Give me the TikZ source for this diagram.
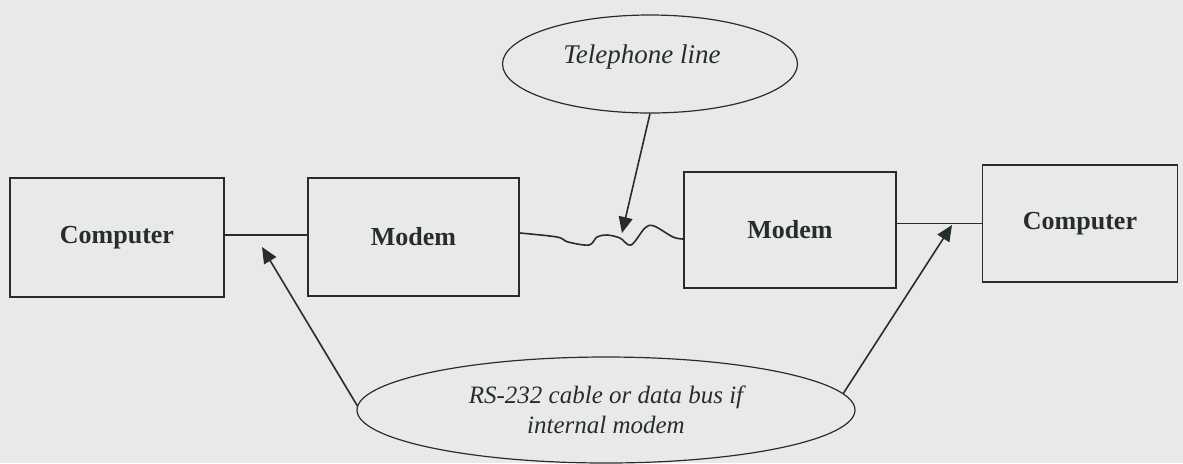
\documentclass[tikz,border=0pt]{standalone}
\usepackage{fontspec}
\setmainfont{Liberation Serif}
\usepackage{tikz}
\usetikzlibrary{arrows.meta,positioning,shapes.geometric}
\definecolor{paper}{RGB}{233,233,235}
\definecolor{ink}{RGB}{38,46,42}

\tikzset{
  unitbox/.style={draw=ink, line width=0.8pt, inner sep=0pt, font=\fontsize{13}{15}\selectfont\bfseries, text=ink},
  callout/.style={ellipse, draw=ink, line width=0.6pt, inner sep=0pt, font=\fontsize{12.5}{15}\selectfont\itshape, text=ink, align=center},
  wire/.style={ink, line width=0.8pt},
  pointer/.style={ink, line width=0.8pt, -{Triangle[length=8pt,width=7pt]}}
}

\begin{document}
\begin{tikzpicture}[x=0.5pt, y=-0.5pt]
\useasboundingbox[fill=paper] (0,0) rectangle (1183,463);
% boxes
\node[unitbox, minimum width=107pt, minimum height=59.5pt] (compA) at (117,237.5) {Computer};
\node[unitbox, minimum width=105.5pt, minimum height=59pt] (mdmA) at (413.5,237) {Modem};
\node[unitbox, minimum width=106pt, minimum height=58pt] (mdmB) at (790,230) {Modem};
\node[unitbox, minimum width=97.5pt, minimum height=58.5pt] (compB) at (1080,223.5) {Computer};
% cables
\draw[wire] (compA.east |- 0,235) -- (mdmA.west |- 0,235);
\draw[wire] (compB.west -| mdmB.east) -- (compB.west);
% telephone line
\draw[wire] plot[smooth, tension=0.55] coordinates {([yshift=2pt]mdmA.east) (557,237) (568,242) (589,245) (597,237) (607,235) (620,238) (631,245) (645,228) (654,226) (673,237) ([yshift=-4.5pt]mdmB.west)};
% callouts
\node[callout, minimum width=147.5pt, minimum height=49pt] (tel) at (650,64) {};
\node[font=\fontsize{13.5}{15}\selectfont\itshape, text=ink] (tellbl) at (642,57) {Telephone line};
\node[callout, minimum width=249pt, minimum height=53pt] (rs) at (606,410) {RS-232 cable or data bus if\\internal modem};
\coordinate (telTip) at (622,233);
\coordinate (leftTip) at (262,247);
\coordinate (rightTip) at (952,225);
\draw[pointer] (tel.south) -- (telTip);
\draw[pointer] (rs.179) -- (leftTip);
\draw[pointer] (rs.4) -- (rightTip);
\end{tikzpicture}
\end{document}
